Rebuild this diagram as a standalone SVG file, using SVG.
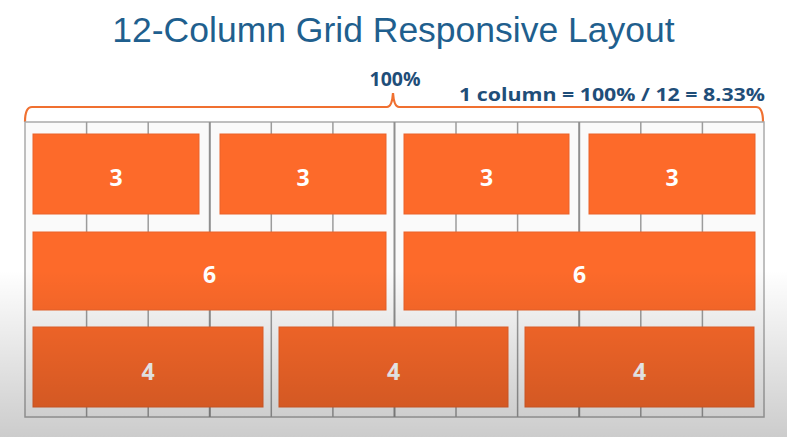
<svg xmlns="http://www.w3.org/2000/svg" width="787" height="437" viewBox="0 0 787 437">
<defs>
<style>
.title{font-family:"Liberation Sans",Arial,sans-serif;font-size:35.5px;fill:#1f5f8e;text-anchor:middle}
.lbl{font-family:"Open Sans","Liberation Sans",sans-serif;font-weight:bold;fill:#1f4e79}
.box{fill:#fd6a2a;stroke:#e9622a;stroke-width:1}
.num{font-family:"Open Sans","Liberation Sans",sans-serif;font-weight:bold;font-size:23px;fill:#ffffff;text-anchor:middle}
.g{stroke:#9c9c9c;stroke-width:1.5}
.g2{stroke:#8f8f8f;stroke-width:2}
</style>
<linearGradient id="shade" x1="0" y1="0" x2="0" y2="1">
<stop offset="0" stop-color="#000" stop-opacity="0"/>
<stop offset="1" stop-color="#000" stop-opacity="0.2"/>
</linearGradient>
</defs>
<rect width="787" height="437" fill="#ffffff"/>
<text class="title" x="393.5" y="42">12-Column Grid Responsive Layout</text>
<text class="lbl" x="395" y="86" font-size="19.5" text-anchor="middle">100%</text>
<text class="lbl" x="459" y="101" font-size="18" textLength="306" lengthAdjust="spacingAndGlyphs">1 column = 100% / 12 = 8.33%</text>
<path d="M25,122 Q25,107 32,107 L387,107 Q392,107 393,93 Q394,107 399,107 L756,107 Q763,107 763,122" fill="none" stroke="#f07030" stroke-width="2.2"/>
<g id="grid">
<rect x="25" y="122" width="739" height="295" fill="#fafafa" stroke="#ababab" stroke-width="1.5"/>
<g class="g">
<line x1="86.6" y1="122" x2="86.6" y2="417"/>
<line x1="148.2" y1="122" x2="148.2" y2="417"/>
<line x1="271.3" y1="122" x2="271.3" y2="417"/>
<line x1="332.9" y1="122" x2="332.9" y2="417"/>
<line x1="456" y1="122" x2="456" y2="417"/>
<line x1="517.6" y1="122" x2="517.6" y2="417"/>
<line x1="640.8" y1="122" x2="640.8" y2="417"/>
<line x1="702.4" y1="122" x2="702.4" y2="417"/>
</g>
<g class="g2">
<line x1="209.8" y1="122" x2="209.8" y2="417"/>
<line x1="394.5" y1="122" x2="394.5" y2="417"/>
<line x1="579.2" y1="122" x2="579.2" y2="417"/>
</g>
</g>
<g id="r1c1"><rect class="box" x="33" y="134" width="166" height="80"/><text class="num" x="116" y="186">3</text></g>
<g id="r1c2"><rect class="box" x="220" y="134" width="166" height="80"/><text class="num" x="303" y="186">3</text></g>
<g id="r1c3"><rect class="box" x="404" y="134" width="165" height="80"/><text class="num" x="486.5" y="186">3</text></g>
<g id="r1c4"><rect class="box" x="589" y="134" width="166" height="80"/><text class="num" x="672" y="186">3</text></g>
<g id="r2c1"><rect class="box" x="33" y="232" width="353" height="78"/><text class="num" x="209.5" y="283">6</text></g>
<g id="r2c2"><rect class="box" x="404" y="232" width="351" height="78"/><text class="num" x="579.5" y="283">6</text></g>
<g id="r3c1"><rect class="box" x="33" y="327" width="230" height="80"/><text class="num" x="148" y="380">4</text></g>
<g id="r3c2"><rect class="box" x="279" y="327" width="229" height="80"/><text class="num" x="393.5" y="380">4</text></g>
<g id="r3c3"><rect class="box" x="525" y="327" width="229" height="80"/><text class="num" x="639.5" y="380">4</text></g>
<rect x="0" y="270" width="787" height="167" fill="url(#shade)"/>
</svg>
